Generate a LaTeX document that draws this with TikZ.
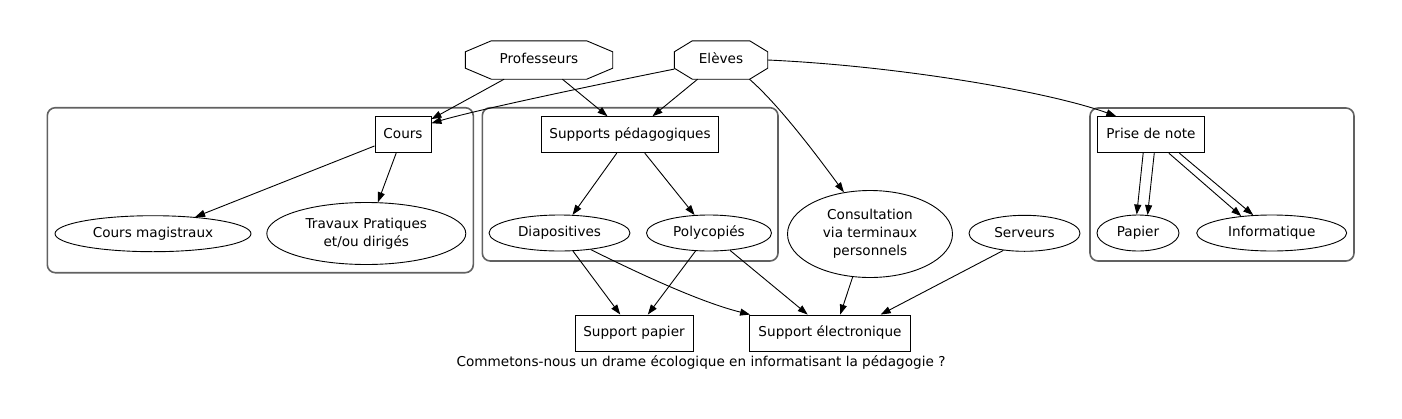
\documentclass[tikz,border=0pt]{standalone}
\usepackage{fontspec}
\setmainfont{DejaVu Sans}
\usetikzlibrary{shapes.geometric,arrows.meta,calc}
\newcommand{\octoutline}[3]{%
  \draw[nodeline] ($(#1.north west)+(#2,0)$) -- ($(#1.north east)+(-#2,0)$)
    -- ($(#1.north east)+(0,#3)$) -- ($(#1.south east)+(0,-#3)$)
    -- ($(#1.south east)+(-#2,0)$) -- ($(#1.south west)+(#2,0)$)
    -- ($(#1.south west)+(0,-#3)$) -- ($(#1.north west)+(0,#3)$) -- cycle;}
\begin{document}
\begin{tikzpicture}[x=1pt,y=-1pt,
  font=\fontsize{13.6}{18}\selectfont,
  nodeline/.style={line width=0.9pt, draw=black},
  rectnode/.style={draw, rectangle, line width=0.9pt, inner sep=0pt, minimum height=36pt, text height=10.2pt, text depth=2.8pt},
  ovalbase/.style={draw, ellipse, line width=0.9pt, inner sep=0pt, minimum height=36pt},
  ovalnode/.style={ovalbase, text height=10.2pt, text depth=2.8pt},
  octa/.style={rectangle, inner sep=0pt, minimum height=38pt, text height=10.2pt, text depth=2.8pt},
  arr/.style={line width=0.9pt, -{Triangle[length=10pt,width=7pt]}},
  cluster/.style={draw=black!62, line width=1.6pt, rounded corners=8pt}]
\useasboundingbox (0,0) rectangle (1402,418);
\fill[white] (0,0) rectangle (1402,418);
% clusters
\draw[cluster] (47.3,107.7) rectangle (473.3,272.7);
\draw[cluster] (482.3,107.7) rectangle (778,261);
\draw[cluster] (1090,108) rectangle (1354,261);
% nodes
\node[octa, minimum width=147pt] (prof) at (539,60) {Professeurs};
\node[octa, minimum width=93pt] (eleves) at (721,60) {Elèves};
\octoutline{prof}{26}{11}
\octoutline{eleves}{18}{11}
\node[rectnode, minimum width=56pt] (cours) at (403,134.7) {Cours};
\node[rectnode, minimum width=177pt] (supports) at (630,134.7) {Supports pédagogiques};
\node[rectnode, minimum width=107pt] (prise) at (1151,134.7) {Prise de note};
\node[ovalnode, minimum width=196pt] (cm) at (153,233.7) {Cours magistraux};
\node[ovalbase, minimum width=199pt, minimum height=62pt, align=center] (tp) at (366.3,233.5) {Travaux Pratiques\\et/ou dirigés};
\node[ovalnode, minimum width=141pt] (diap) at (559.5,233) {Diapositives};
\node[ovalnode, minimum width=125pt] (poly) at (709,233) {Polycopiés};
\node[ovalbase, minimum width=165pt, minimum height=87pt, align=center] (consult) at (870,234) {Consultation\\via terminaux\\personnels};
\node[ovalnode, minimum width=111pt] (serveurs) at (1024.5,233.3) {Serveurs};
\node[ovalnode, minimum width=82pt] (papier) at (1138,233) {Papier};
\node[ovalnode, minimum width=150pt] (info) at (1271.7,233) {Informatique};
\node[rectnode, minimum width=118pt] (spapier) at (634,333) {Support papier};
\node[rectnode, minimum width=161pt] (selec) at (830,333) {Support électronique};
\node[text height=10.2pt, text depth=2.8pt, inner sep=0pt] (caption) at (701,363) {Commetons-nous un drame écologique en informatisant la pédagogie ?};
% edges
\draw[arr] (prof) -- (cours);
\draw[arr] (eleves.191) .. controls (600,84) and (480,109) .. (cours.22);
\draw[arr] (prof) -- (supports);
\draw[arr] (eleves) -- (supports);
\draw[arr] (eleves.-34) .. controls (780,106) and (818,157) .. (consult.122);
\draw[arr] (eleves.east) .. controls (900,66) and (1050,92) .. (prise.152);
\draw[arr] (cours) -- (cm);
\draw[arr] (cours) -- (tp);
\draw[arr] (supports) -- (diap);
\draw[arr] (supports) -- (poly);
\draw[arr] (prise.-113) -- (papier.94);
\draw[arr] (prise.-80.5) -- (papier.62);
\draw[arr] (prise.-46) -- (info.151);
\draw[arr] (prise.-33) -- (info.136);
\draw[arr] (diap) -- (spapier);
\draw[arr] (poly) -- (spapier);
\draw[arr] (diap.-28) .. controls (640,274) and (700,302) .. (selec.167);
\draw[arr] (poly) -- (selec);
\draw[arr] (consult.-112) -- (selec.61);
\draw[arr] (serveurs.219) -- (selec.20);
\end{tikzpicture}
\end{document}
